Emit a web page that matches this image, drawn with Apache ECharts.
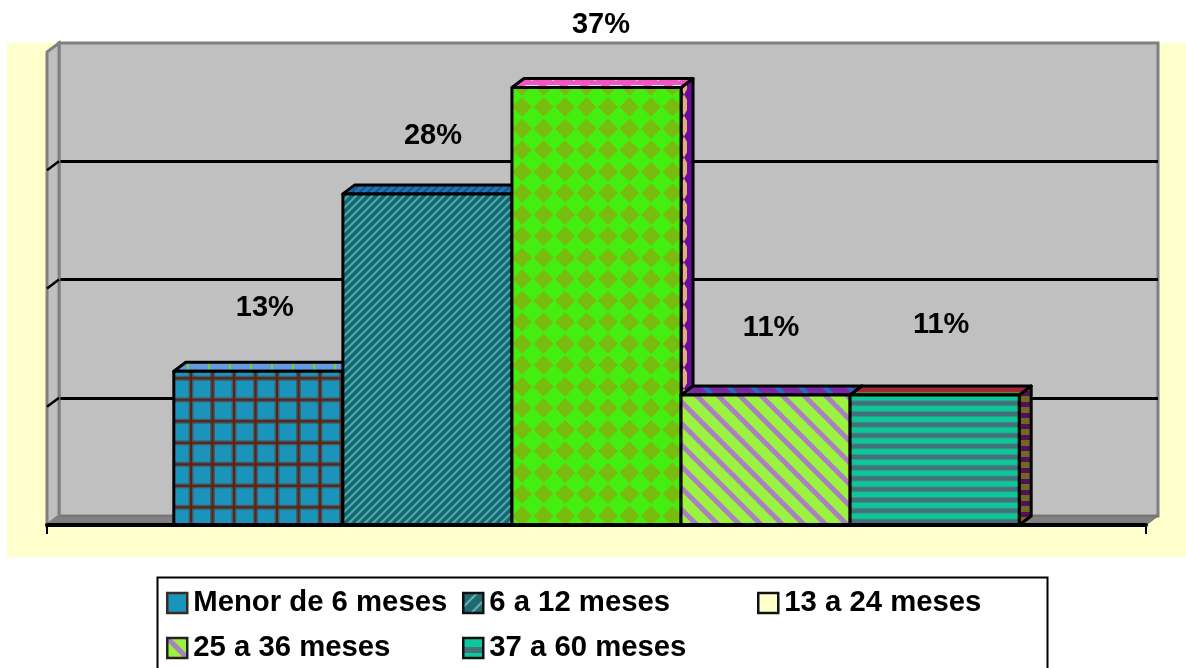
<!DOCTYPE html>
<html>
<head>
<meta charset="utf-8">
<style>html,body{margin:0;padding:0;background:#fff}#chart{width:1186px;height:668px}</style>
<script src="https://cdn.jsdelivr.net/npm/echarts@6/dist/echarts.min.js"></script>
</head>
<body>
<div id="chart"></div>
<script>
// Tiempo de permanencia: a single category with five 3-D looking columns.
const categories = [''];
const seriesNames = ['Menor de 6 meses', '6 a 12 meses', '13 a 24 meses', '25 a 36 meses', '37 a 60 meses'];
const seriesValues = [13, 28, 37, 11, 11];
const gridTicks = [10, 20, 30];
const axisMax = 40;

// Rise of each percentage label above its column, in pixels.
const labelLift = [63, 58, 62, 67, 70];
const labelShift = [6.5, 5.5, 4.5, 5.5, 6.5];

const DEPTH_X = 12, DEPTH_Y = 9, GAP_RATIO = 1.5;
const FONT = '"Liberation Sans", Arial, sans-serif';

function tile(w, h, draw) {
  const c = document.createElement('canvas');
  c.width = w; c.height = h;
  draw(c.getContext('2d'), w, h);
  return { image: c, repeat: 'repeat' };
}
function rect(g, color, x, y, w, h) { g.fillStyle = color; g.fillRect(x, y, w, h); }
function diamond(g, color, cx, cy, rx, ry) {
  g.fillStyle = color;
  g.beginPath();
  g.moveTo(cx - rx, cy); g.lineTo(cx, cy - ry); g.lineTo(cx + rx, cy); g.lineTo(cx, cy + ry);
  g.closePath(); g.fill();
}
// Diagonal stripes that wrap seamlessly on a square tile; dir 1 rises to the right, -1 falls.
function stripes(g, size, back, fore, width, dir) {
  rect(g, back, 0, 0, size, size);
  g.strokeStyle = fore; g.lineWidth = width;
  for (let k = -1; k <= 1; k++) {
    g.beginPath();
    if (dir > 0) { g.moveTo(k * size - 4, size + 4); g.lineTo(k * size + size + 4, -4); }
    else { g.moveTo(k * size - 4, -4); g.lineTo(k * size + size + 4, size + 4); }
    g.stroke();
  }
}

const patterns = {
  brick: tile(43, 43, (g) => {
    rect(g, '#1a94bb', 0, 0, 43, 43);
    const soft = 'rgba(84,70,70,0.7)', line = '#5a2414';
    [19, 40.5].forEach((x) => { rect(g, soft, x - 2.5, 0, 5, 43); });
    [12.8, 34.3].forEach((y) => { rect(g, soft, 0, y - 2.5, 43, 5); });
    [19, 40.5].forEach((x) => { rect(g, line, x - 1, 0, 2, 43); });
    [12.8, 34.3].forEach((y) => { rect(g, line, 0, y - 1, 43, 2); });
  }),
  brickTop: tile(21, 9, (g) => {
    rect(g, '#6898e0', 0, 0, 21, 9);
    rect(g, '#6fd81a', 19, 0, 3, 9);
  }),
  hatch: tile(8, 8, (g) => stripes(g, 8, '#0d6a6e', '#5aa4ae', 2, 1)),
  hatchTop: tile(8, 8, (g) => stripes(g, 8, '#1f72b4', '#17507c', 1.6, 1)),
  diamonds: tile(43, 43, (g) => {
    rect(g, '#44ee10', 0, 0, 43, 43);
    [[6, 21], [27.5, 21], [6, 42.5], [27.5, 42.5], [6, 0], [27.5, 0], [49, 21], [49, 0], [49, 42.5]].forEach(([x, y]) => {
      diamond(g, '#78bc10', x, y, 9.8, 9.8);
    });
  }),
  pinkTop: tile(21, 9, (g) => {
    rect(g, '#f454c4', 0, 0, 21, 9);
    g.fillStyle = '#c8f2e8';
    g.beginPath(); g.moveTo(0, 4); g.lineTo(14, 4); g.lineTo(7, 9); g.closePath(); g.fill();
  }),
  purpleSide: tile(12, 21, (g) => {
    rect(g, '#e2b07c', 0, 0, 12, 21);
    diamond(g, '#6a0c9c', 6, 10.5, 6, 10.5);
    rect(g, '#6a0c9c', 3, 0, 6, 21);
  }),
  slant: tile(43, 43, (g) => {
    rect(g, '#9bf240', 0, 0, 43, 43);
    g.strokeStyle = '#aa80c0'; g.lineWidth = 5;
    for (let k = -3; k <= 3; k++) {
      g.beginPath(); g.moveTo(k * 21.5 - 8, -8); g.lineTo(k * 21.5 + 51, 51); g.stroke();
    }
  }),
  slantTop: tile(24, 9, (g) => {
    rect(g, '#7a26a0', 0, 0, 24, 9);
    g.fillStyle = '#1f6ec4';
    g.beginPath(); g.moveTo(6, 0); g.lineTo(12, 0); g.lineTo(20, 9); g.lineTo(14, 9); g.closePath(); g.fill();
  }),
  bands: tile(8, 43, (g) => {
    rect(g, '#0cc898', 0, 0, 8, 43);
    [3, 13.75, 24.5, 35.25].forEach((y) => {
      rect(g, '#2f9a8c', 0, y - 0.5, 8, 6);
      rect(g, '#44707a', 0, y + 0.5, 8, 4);
    });
  }),
  bandTop: tile(8, 9, (g) => {
    rect(g, '#a02838', 0, 0, 8, 9);
    rect(g, '#5e8a22', 0, 5, 8, 4);
  }),
  bandSide: tile(8, 11, (g) => {
    rect(g, '#6f6a20', 0, 0, 8, 11);
    rect(g, '#50105a', 0, 6, 8, 5);
  })
};

const faces = [
  { front: patterns.brick, top: patterns.brickTop, side: '#1a94bb' },
  { front: patterns.hatch, top: patterns.hatchTop, side: '#0d6a70' },
  { front: patterns.diamonds, top: patterns.pinkTop, side: patterns.purpleSide },
  { front: patterns.slant, top: patterns.slantTop, side: '#7a26a0' },
  { front: patterns.bands, top: patterns.bandTop, side: patterns.bandSide }
];
const swatches = [
  { color: '#1a94bb', borderColor: '#3a2a24' },
  { color: tile(14, 14, (g) => stripes(g, 14, '#1f6a72', '#6fb0b8', 2, 1)), borderColor: '#111' },
  { color: '#ffffcc', borderColor: '#111' },
  { color: tile(20, 20, (g) => stripes(g, 20, '#9bf240', '#aa80c0', 5, -1)), borderColor: '#222' },
  { color: tile(8, 20, (g) => { rect(g, '#0cc898', 0, 0, 8, 20); rect(g, '#44707a', 0, 9, 8, 6); }), borderColor: '#111' }
];

function renderColumn(index) {
  return function (params, api) {
    const value = api.value(1);
    const center = api.coord([api.value(0), 0]);
    const band = api.size([1, 0])[0];
    const n = seriesValues.length;
    const barW = band / (n + GAP_RATIO);
    const x0 = center[0] - barW * n / 2 + barW * index;
    const x1 = x0 + barW;
    const yBase = center[1];
    const yTop = api.coord([api.value(0), value])[1];
    const f = faces[index];
    const edge = { stroke: '#000', lineWidth: 3, lineJoin: 'round' };
    const poly = (points, fill) => ({
      type: 'polygon', shape: { points }, style: Object.assign({ fill }, edge)
    });
    return {
      type: 'group',
      children: [
        poly([[x1, yTop], [x1 + DEPTH_X, yTop - DEPTH_Y], [x1 + DEPTH_X, yBase - DEPTH_Y], [x1, yBase]], f.side),
        poly([[x0, yTop], [x0 + DEPTH_X, yTop - DEPTH_Y], [x1 + DEPTH_X, yTop - DEPTH_Y], [x1, yTop]], f.top),
        poly([[x0, yTop], [x1, yTop], [x1, yBase], [x0, yBase]], f.front),
        {
          type: 'text',
          style: {
            text: value + '%', x: (x0 + x1) / 2 + labelShift[index], y: yTop - labelLift[index],
            align: 'center', verticalAlign: 'middle', fill: '#000',
            font: 'bold 29px ' + FONT
          }
        }
      ]
    };
  };
}

// Side wall and floor of the box that joins the front plane to the back wall.
function renderWalls(params, api) {
  const base = api.coord([0, 0]);
  const band = api.size([1, 0])[0];
  const left = base[0] - band / 2, right = base[0] + band / 2;
  const yTop = api.coord([0, axisMax])[1], yBase = base[1];
  const children = [
    {
      type: 'polygon',
      shape: { points: [[left, yBase], [right, yBase], [right + DEPTH_X, yBase - DEPTH_Y], [left + DEPTH_X, yBase - DEPTH_Y]] },
      style: { fill: '#808080', stroke: '#6c6c6c', lineWidth: 1 }
    },
    {
      type: 'polygon',
      shape: { points: [[left, yTop], [left + DEPTH_X, yTop - DEPTH_Y], [left + DEPTH_X, yBase - DEPTH_Y], [left, yBase]] },
      style: { fill: '#c0c0c0', stroke: '#808080', lineWidth: 3 }
    }
  ];
  gridTicks.forEach((t) => {
    const y = api.coord([0, t])[1];
    children.push({
      type: 'line',
      shape: { x1: left, y1: y, x2: left + DEPTH_X, y2: y - DEPTH_Y },
      style: { stroke: '#000', lineWidth: 2.5 }
    });
  });
  return { type: 'group', children };
}

const columnSeries = seriesNames.map((name, i) => ({
  type: 'custom',
  name,
  xAxisIndex: 0,
  yAxisIndex: 0,
  z: 3 + i,
  data: [[0, seriesValues[i]]],
  encode: { x: 0, y: 1 },
  itemStyle: { color: swatches[i].color },
  renderItem: renderColumn(i)
}));

function legendColumn(left, indices) {
  return {
    left, top: 587, orient: 'vertical', selectedMode: false, padding: 0,
    itemWidth: 20, itemHeight: 20, itemGap: 13,
    icon: 'rect',
    textStyle: { fontFamily: FONT, fontWeight: 'bold', fontSize: 29.3, color: '#000', padding: [0, 0, 0, 1], lineHeight: 32 },
    data: indices.map((i) => ({
      name: seriesNames[i],
      itemStyle: { color: swatches[i].color, borderColor: swatches[i].borderColor, borderWidth: 2.5 }
    }))
  };
}

const chart = echarts.init(document.getElementById('chart'), null, { renderer: 'canvas' });
chart.setOption({
  animation: false,
  backgroundColor: '#fff',
  graphic: [
    { type: 'rect', z: -100, shape: { x: 7, y: 43, width: 1179, height: 514 }, style: { fill: '#ffffcc' } },
    { type: 'rect', z: -100, shape: { x: 157.5, y: 577.5, width: 890, height: 100 }, style: { fill: '#fff', stroke: '#000', lineWidth: 2 } }
  ],
  legend: [legendColumn(166, [0, 3]), legendColumn(462, [1, 4]), legendColumn(757, [2])],
  grid: [
    { left: 47, top: 52, width: 1099, height: 473, containLabel: false },
    {
      show: true, left: 59, top: 43, width: 1099, height: 473,
      backgroundColor: '#c0c0c0', borderColor: '#808080', borderWidth: 3
    }
  ],
  xAxis: [
    {
      gridIndex: 0, type: 'category', data: categories, z: 20,
      axisLine: { lineStyle: { color: '#000', width: 4 } },
      axisTick: { show: true, length: 9, lineStyle: { color: '#000', width: 2 } },
      axisLabel: { show: false }
    },
    { gridIndex: 1, type: 'category', data: categories, show: false }
  ],
  yAxis: [
    { gridIndex: 0, type: 'value', min: 0, max: axisMax, interval: 10, show: false },
    {
      gridIndex: 1, type: 'value', min: 0, max: axisMax, interval: 10,
      axisLine: { show: false }, axisTick: { show: false }, axisLabel: { show: false },
      splitLine: { show: true, showMinLine: false, showMaxLine: false, lineStyle: { color: '#000', width: 3 } }
    }
  ],
  series: [
    {
      type: 'custom', xAxisIndex: 0, yAxisIndex: 0, z: 1, silent: true,
      data: [[0, 0]], encode: { x: 0, y: 1 }, renderItem: renderWalls
    }
  ].concat(columnSeries)
});
</script>
</body>
</html>
